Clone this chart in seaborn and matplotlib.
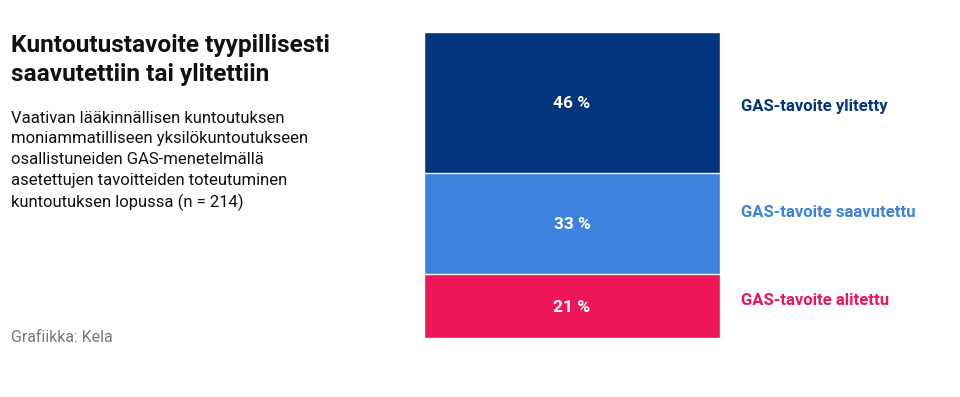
import matplotlib
matplotlib.use("Agg")
import matplotlib.pyplot as plt
import numpy as np
import seaborn as sns

sns.set_style("white")
plt.rcParams["font.family"] = ["Roboto", "DejaVu Sans"]

# data (bottom to top)
categories = ["GAS-tavoite alitettu", "GAS-tavoite saavutettu", "GAS-tavoite ylitetty"]
shares = [21, 33, 46]
colors = ["#ee1558", "#3c82de", "#02357e"]
label_nudge = [1.6, 3.4, -1.5]  # small vertical shifts of the side labels

title = "Kuntoutustavoite tyypillisesti\nsaavutettiin tai ylitettiin"
subtitle = ("Vaativan lääkinnällisen kuntoutuksen\n"
            "moniammatilliseen yksilökuntoutukseen\n"
            "osallistuneiden GAS-menetelmällä\n"
            "asetettujen tavoitteiden toteutuminen\n"
            "kuntoutuksen lopussa (n = 214)")
source = "Grafiikka: Kela"

cum = np.cumsum(shares)
bottoms = cum - np.array(shares)

fig = plt.figure(figsize=(9.6, 3.97), dpi=100)
ax = fig.add_axes([424 / 960, 59 / 397, 296 / 960, 306 / 397])

# draw tallest first so the smaller stacks sit on top
for i in reversed(range(len(shares))):
    sns.barplot(x=["all"], y=[cum[i]], color=colors[i], width=1.0,
                edgecolor="white", linewidth=1, ax=ax, saturation=1)

for i, (s, b) in enumerate(zip(shares, bottoms)):
    mid = b + s / 2
    ax.text(0, mid - 0.5, f"{s} %", color="white", ha="center", va="center",
            fontsize=12.5, fontweight="bold")
    ax.text(0.57, mid + label_nudge[i], categories[i], color=colors[i],
            ha="left", va="center", fontsize=12, fontweight="bold",
            clip_on=False)

ax.set_xlim(-0.5, 0.5)
ax.set_ylim(0, 100)
ax.axis("off")

fig.text(11 / 960, 1 - 60 / 397, title, fontsize=17.6, fontweight="bold",
         va="center", ha="left", linespacing=1.3, color="#111111")
fig.text(11 / 960, 1 - 161 / 397, subtitle, fontsize=12, va="center",
         ha="left", linespacing=1.47, color="#111111")
fig.text(11 / 960, 1 - 337 / 397, source, fontsize=11.4, va="center",
         ha="left", color="#777777")

plt.savefig("out.png", dpi=100)
